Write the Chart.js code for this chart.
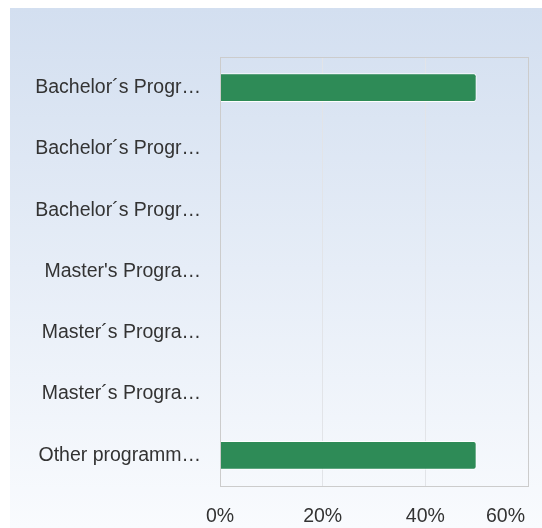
<!DOCTYPE html>
<html>
<head>
<meta charset="utf-8">
<script src="https://cdn.jsdelivr.net/npm/chart.js@4/dist/chart.umd.min.js"></script>
<style>
  html, body { margin: 0; padding: 0; background: #ffffff; }
  #bg { position: absolute; left: 10px; top: 8px; width: 532px; height: 520px;
        background: linear-gradient(to bottom, #d3dff0 0%, #e6edf7 50%, #f9fbfe 100%); }
  #wrap { position: absolute; left: 0; top: 0; width: 542px; height: 528px; }
</style>
</head>
<body>
<div id="bg"></div>
<div id="wrap"><canvas id="c" width="542" height="528"></canvas></div>
<script>
const categories = [
  "Bachelor´s Progr…",
  "Bachelor´s Progr…",
  "Bachelor´s Progr…",
  "Master's Progra…",
  "Master´s Progra…",
  "Master´s Progra…",
  "Other programm…"
];
const percentValues = [50, 0, 0, 0, 0, 0, 50];
const xTicks = [0, 20, 40, 60];

const FONT = '19.5px "Liberation Sans", Arial, sans-serif';

const frame = {
  id: 'frame',
  afterDraw(chart) {
    const a = chart.chartArea, ctx = chart.ctx;
    ctx.save();
    ctx.strokeStyle = '#cccccc';
    ctx.lineWidth = 1;
    ctx.strokeRect(Math.round(a.left) + 0.5, Math.round(a.top) + 0.5,
                   Math.round(a.right - a.left), Math.round(a.bottom - a.top));
    // x tick labels, kept inside the canvas like the reference
    const xs = chart.scales.x;
    ctx.font = FONT;
    ctx.fillStyle = '#333333';
    ctx.textBaseline = 'middle';
    ctx.textAlign = 'center';
    xTicks.forEach(v => {
      const t = v + '%';
      const w = ctx.measureText(t).width;
      let x = xs.getPixelForValue(v);
      x = Math.min(x, chart.width - 17 - w / 2);
      ctx.fillText(t, x, 517);
    });
    ctx.restore();
  }
};

new Chart(document.getElementById('c'), {
  type: 'bar',
  data: {
    labels: categories,
    datasets: [{
      data: percentValues,
      backgroundColor: '#2e8b57',
      borderColor: '#ffffff',
      borderWidth: 1,
      borderRadius: 3,
      borderSkipped: 'start',
      categoryPercentage: 1,
      barPercentage: 0.47
    }]
  },
  options: {
    indexAxis: 'y',
    responsive: false,
    animation: false,
    layout: { padding: { top: 57, right: 14, left: 0, bottom: 0 } },
    plugins: { legend: { display: false }, tooltip: { enabled: false } },
    scales: {
      x: {
        min: 0, max: 60,
        afterBuildTicks(scale) { scale.ticks = xTicks.map(v => ({ value: v })); },
        afterFit(scale) { scale.height = 42; scale.paddingLeft = 0; scale.paddingRight = 0; },
        grid: { color: '#e2e4e8', drawTicks: false },
        border: { display: false },
        ticks: { display: false }
      },
      y: {
        afterFit(scale) { scale.width = 220; },
        grid: { display: false, drawTicks: false },
        border: { display: false },
        ticks: {
          padding: 19,
          color: '#333333',
          font: { family: '"Liberation Sans", Arial, sans-serif', size: 19.5 }
        }
      }
    }
  },
  plugins: [frame]
});
</script>
</body>
</html>
